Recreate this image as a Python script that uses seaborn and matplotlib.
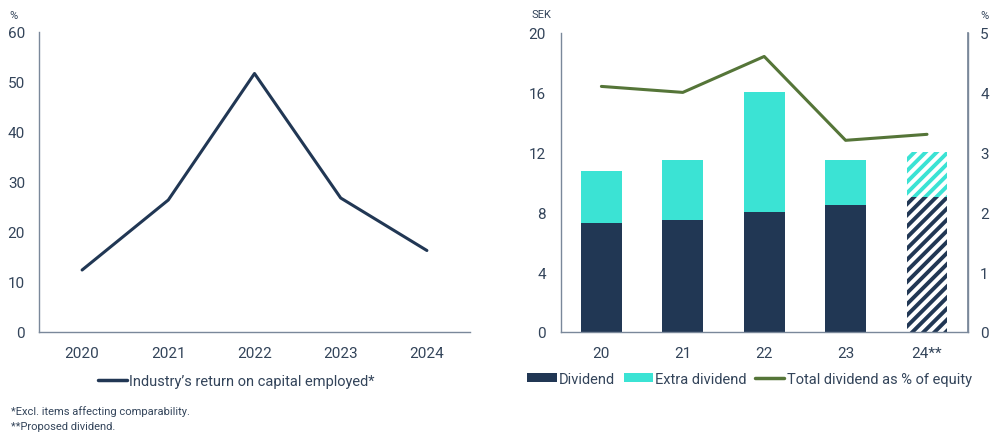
import matplotlib
matplotlib.use("Agg")
import matplotlib.pyplot as plt
from matplotlib.lines import Line2D
from matplotlib.patches import Patch
import numpy as np
import pandas as pd
import seaborn as sns

# --- data -------------------------------------------------------------
roce_years = ["2020", "2021", "2022", "2023", "2024"]
roce_values = [12.4, 26.4, 51.7, 26.8, 16.3]

div_years = ["20", "21", "22", "23", "24**"]
dividend = [7.25, 7.5, 8.0, 8.5, 9.0]
extra_dividend = [3.5, 4.0, 8.0, 3.0, 3.0]
pct_of_equity = [4.1, 4.0, 4.6, 3.2, 3.3]

left_yticks = [0, 10, 20, 30, 40, 50, 60]
sek_ticks = [0, 4, 8, 12, 16, 20]
pct_ticks = [0, 1, 2, 3, 4, 5]

# --- style ------------------------------------------------------------
NAVY = "#213754"
TURQ = "#3be3d4"
GREEN = "#557538"
TEXT = "#33445a"
SPINE = "#7a889a"

sns.set_theme(style="white")
plt.rcParams["font.family"] = ["Roboto", "DejaVu Sans"]
plt.rcParams["hatch.linewidth"] = 2.8

W, H = 992, 435
fig = plt.figure(figsize=(W / 100, H / 100), dpi=100)


def box(x0, y0, x1, y1):
    return [x0 / W, 1 - y1 / H, (x1 - x0) / W, (y1 - y0) / H]


ax1 = fig.add_axes(box(39, 33, 470, 333))
ax2 = fig.add_axes(box(560.7, 33.5, 967.7, 333))

# --- left: return on capital employed --------------------------------
roce = pd.DataFrame({"year": roce_years, "value": roce_values})
sns.lineplot(data=roce, x="year", y="value", ax=ax1, color=NAVY,
             linewidth=2.2, sort=False)
ax1.set_xlim(-0.5, len(roce_years) - 0.5)
ax1.set_ylim(0, 60)
ax1.set_yticks(left_yticks)
ax1.set_xlabel("")
ax1.set_ylabel("")
for s in ["top", "right"]:
    ax1.spines[s].set_visible(False)
for s in ["left", "bottom"]:
    ax1.spines[s].set_color(SPINE)
    ax1.spines[s].set_linewidth(1.0)
ax1.tick_params(axis="y", length=0, pad=10, labelsize=11, labelcolor=TEXT)
ax1.tick_params(axis="x", length=0, pad=10, labelsize=11, labelcolor=TEXT)

# --- right: dividends --------------------------------------------------
totals = [d + e for d, e in zip(dividend, extra_dividend)]
divs = pd.DataFrame({"year": div_years, "dividend": dividend,
                     "total": totals, "pct": pct_of_equity})
sns.barplot(data=divs, x="year", y="total", ax=ax2, color=TURQ,
            saturation=1, width=0.5, linewidth=0)
sns.barplot(data=divs, x="year", y="dividend", ax=ax2, color=NAVY,
            saturation=1, width=0.5, linewidth=0)

# proposed dividend drawn hatched
n = len(div_years)
total_bar = ax2.patches[n - 1]
div_bar = ax2.patches[2 * n - 1]
for bar, col in [(total_bar, TURQ), (div_bar, NAVY)]:
    bar.set_facecolor("white")
    bar.set_edgecolor(col)
    bar.set_hatch("///")
    bar.set_linewidth(0)

ax2.set_xlim(-0.5, n - 0.5)
ax2.set_ylim(0, 20)
ax2.set_yticks(sek_ticks)
ax2.set_xlabel("")
ax2.set_ylabel("")
ax2.spines["top"].set_visible(False)
for s in ["left", "bottom", "right"]:
    ax2.spines[s].set_color(SPINE)
    ax2.spines[s].set_linewidth(1.0)
ax2.tick_params(axis="y", length=0, pad=10.5, labelsize=11, labelcolor=TEXT)
ax2.tick_params(axis="x", length=0, pad=10, labelsize=11, labelcolor=TEXT)

ax3 = ax2.twinx()
sns.lineplot(data=divs, x="year", y="pct", ax=ax3, color=GREEN,
             linewidth=2.2, sort=False)
ax3.set_ylim(0, 5)
ax3.set_yticks(pct_ticks)
ax3.set_ylabel("")
ax3.set_xlim(-0.5, n - 0.5)
for s in ["top", "left", "bottom"]:
    ax3.spines[s].set_visible(False)
ax3.spines["right"].set_color(SPINE)
ax3.tick_params(axis="y", length=0, pad=9, labelsize=11, labelcolor=TEXT)

# unit labels
fig.text(9 / W, 1 - 16 / H, "%", fontsize=8, color=TEXT, va="center")
fig.text(532 / W, 1 - 15 / H, "SEK", fontsize=8, color=TEXT, va="center")
fig.text(980 / W, 1 - 16 / H, "%", fontsize=8, color=TEXT, va="center")

# legends
fig.legend(
    handles=[Line2D([], [], color=NAVY, linewidth=2.5)],
    labels=["Industry\u2019s return on capital employed*"],
    loc="center", bbox_to_anchor=(236.5 / W, 1 - 382 / H), frameon=False,
    fontsize=10.5, handlelength=2.0, handletextpad=0.15, labelcolor=TEXT,
)
fig.legend(
    handles=[Patch(facecolor=NAVY, linewidth=0),
             Patch(facecolor=TURQ, linewidth=0),
             Line2D([], [], color=GREEN, linewidth=2.5)],
    labels=["Dividend", "Extra dividend", "Total dividend as % of equity"],
    loc="center", bbox_to_anchor=(749.5 / W, 1 - 380 / H), frameon=False,
    ncol=3, fontsize=10.5, handlelength=2.0, handleheight=0.6,
    handletextpad=0.15, columnspacing=0.6, labelcolor=TEXT,
)

# footnotes
fig.text(11 / W, 1 - 412 / H, "*Excl. items affecting comparability.",
         fontsize=8, color=TEXT, va="center")
fig.text(11 / W, 1 - 427 / H, "**Proposed dividend.",
         fontsize=8, color=TEXT, va="center")

fig.savefig("out.png", dpi=100, facecolor="white")
